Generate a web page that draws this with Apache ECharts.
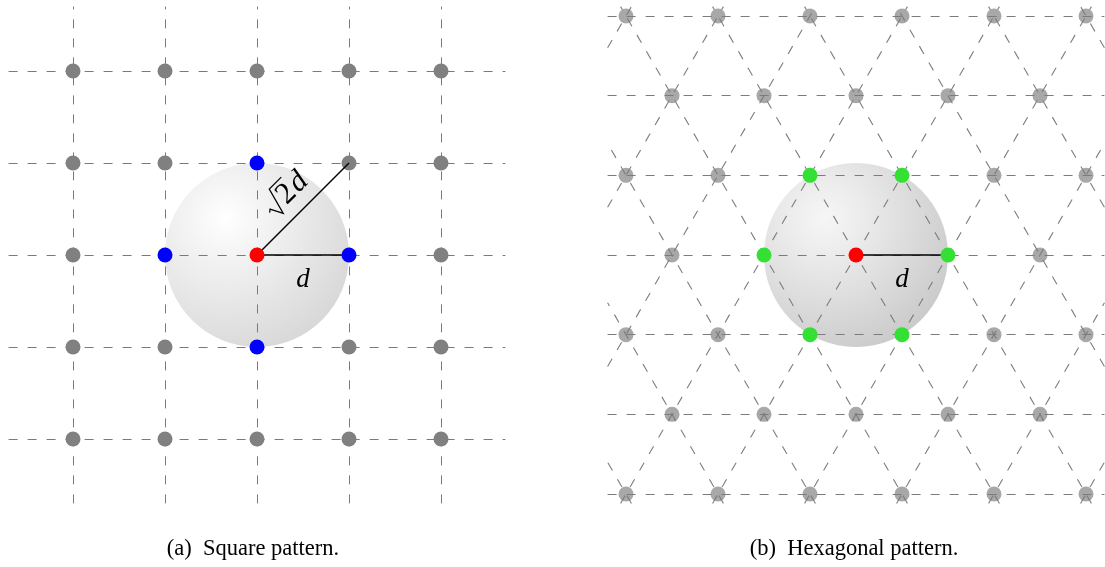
<!DOCTYPE html>
<html>
<head>
<meta charset="utf-8">
<script src="https://cdn.jsdelivr.net/npm/echarts@6/dist/echarts.min.js"></script>
<style>
  html, body { margin: 0; padding: 0; background: #fff; }
  #chart { width: 1105px; height: 567px; }
</style>
</head>
<body>
<div id="chart"></div>
<script>
// Lattice layout, in units of the nearest-neighbour distance d
const squareCols = [-2, -1, 0, 1, 2];
const squareRows = [-2, -1, 0, 1, 2];
const squareCentre = [[0, 0]];
const squareNearest = [[1, 0], [0, 1], [-1, 0], [0, -1]];
const squareSegments = [[[0, 0], [1, 0]], [[0, 0], [1, 1]]];

const hexRows = [-3, -2, -1, 0, 1, 2, 3];
const hexColsEven = [-2, -1, 0, 1, 2];
const hexColsOdd = [-2.5, -1.5, -0.5, 0.5, 1.5, 2.5];
const hexCentre = [[0, 0]];
const hexNearest = [[1, 0], [-1, 0], [0.5, 1], [-0.5, 1], [0.5, -1], [-0.5, -1]]; // [column, row]
const hexSegments = [[[0, 0], [1, 0]]];
const hexDiagonalOffsets = [-6, -5, -4, -3, -2, -1, 0, 1, 2, 3, 4, 5, 6];

const sphereRadius = 1;
const captions = ['(a)  Square pattern.', '(b)  Hexagonal pattern.'];

const H = Math.sqrt(3) / 2;      // row height of the triangular lattice
const EXT = 2.7;                 // half-extent of each panel's axes

// clip an infinite line (point + direction) to the panel box
function clipLine(px, py, dx, dy) {
  let t0 = -Infinity, t1 = Infinity;
  [[px, dx], [py, dy]].forEach(([p, d]) => {
    if (Math.abs(d) < 1e-12) { if (p < -EXT || p > EXT) { t0 = 1; t1 = 0; } return; }
    const a = (-EXT - p) / d, b = (EXT - p) / d;
    t0 = Math.max(t0, Math.min(a, b));
    t1 = Math.min(t1, Math.max(a, b));
  });
  if (t0 >= t1) return null;
  return { coords: [[px + dx * t0, py + dy * t0], [px + dx * t1, py + dy * t1]] };
}

const isSame = (a, b) => Math.abs(a[0] - b[0]) < 1e-9 && Math.abs(a[1] - b[1]) < 1e-9;

// square lattice
const squareAll = squareRows.flatMap(r => squareCols.map(c => [c, r]));
const squareGrey = squareAll.filter(p => !squareCentre.concat(squareNearest).some(q => isSame(p, q)));
const squareLines = []
  .concat(squareRows.map(r => clipLine(0, r, 1, 0)))
  .concat(squareCols.map(c => clipLine(c, 0, 0, 1)))
  .filter(Boolean);

// triangular (hexagonal) lattice
const hexAll = hexRows.flatMap(r => (r % 2 ? hexColsOdd : hexColsEven).map(c => [c, r * H]));
const hexNearestXY = hexNearest.map(([c, r]) => [c, r * H]);
const hexGrey = hexAll.filter(p => !hexCentre.concat(hexNearestXY).some(q => isSame(p, q)));
const hexLines = []
  .concat(hexRows.map(r => clipLine(0, r * H, 1, 0)))
  .concat(hexDiagonalOffsets.map(c => clipLine(c, 0, 0.5, H)))
  .concat(hexDiagonalOffsets.map(c => clipLine(c, 0, -0.5, H)))
  .filter(Boolean);

const dashed = (color, w) => ({ color: color, width: w, type: [9, 10], opacity: 1 });

function sphereSeries(idx, inner, outer) {
  return {
    type: 'custom', xAxisIndex: idx, yAxisIndex: idx, z: 1, silent: true,
    data: [[0, 0, sphereRadius]],
    renderItem: (params, api) => {
      const c = api.coord([api.value(0), api.value(1)]);
      const r = api.size([api.value(2), 0])[0];
      return {
        type: 'circle',
        shape: { cx: c[0], cy: c[1], r: r },
        style: {
          fill: {
            type: 'radial', x: 0.33, y: 0.3, r: 0.8,
            colorStops: [
              { offset: 0, color: inner[0] },
              { offset: 0.25, color: inner[1] },
              { offset: 1, color: outer }
            ]
          }
        }
      };
    }
  };
}

function dots(idx, data, color, size, z) {
  return {
    type: 'scatter', xAxisIndex: idx, yAxisIndex: idx, z: z, silent: true,
    symbol: 'circle', symbolSize: size, data: data,
    itemStyle: { color: color, opacity: 1 }
  };
}

function textMark(idx, x, y, build) {
  return {
    type: 'custom', xAxisIndex: idx, yAxisIndex: idx, z: 10, silent: true,
    data: [[x, y]],
    renderItem: (params, api) => {
      const p = api.coord([api.value(0), api.value(1)]);
      return build(p);
    }
  };
}

const italicD = (p) => ({
  type: 'text', x: p[0], y: p[1],
  style: {
    text: 'd', fill: '#000', align: 'center', verticalAlign: 'middle',
    font: 'italic 27px "Liberation Serif", "DejaVu Serif", serif'
  }
});

// radical sign with its bar over the 2, followed by italic d, laid along the diagonal
const rootLabel = (p) => ({
  type: 'group', x: p[0], y: p[1], rotation: Math.PI / 4, scaleX: 1.13, scaleY: 1.13,
  children: [
    {
      type: 'polyline',
      shape: { points: [[-22, 1], [-19.5, -1], [-14, 10], [-7.5, -14], [7.5, -14]] },
      style: { stroke: '#000', lineWidth: 1.1, fill: null }
    },
    {
      type: 'text', x: 0, y: 0,
      style: { text: '2', fill: '#000', align: 'center', verticalAlign: 'middle', font: '27px "Liberation Serif", serif' }
    },
    {
      type: 'text', x: 15, y: 0,
      style: { text: 'd', fill: '#000', align: 'center', verticalAlign: 'middle', font: 'italic 27px "Liberation Serif", serif' }
    }
  ]
});

const gridBox = (left) => ({ left: left, top: 6.6, width: 496.8, height: 496.8 });
const axis = (idx) => ({ gridIndex: idx, type: 'value', min: -EXT, max: EXT, show: false });

const captionStyle = (text) => ({ text: text, align: 'center', verticalAlign: 'middle', fill: '#000', font: '22.5px "Liberation Serif", serif' });

const option = {
  animation: false,
  backgroundColor: '#fff',
  grid: [gridBox(8.6), gridBox(607.6)],
  xAxis: [axis(0), axis(1)],
  yAxis: [axis(0), axis(1)],
  graphic: [
    { type: 'text', x: 253, y: 549, style: captionStyle(captions[0]), z: 20 },
    { type: 'text', x: 854, y: 549, style: captionStyle(captions[1]), z: 20 }
  ],
  series: [
    // (a) square pattern
    sphereSeries(0, ['#ffffff', '#f4f4f4'], '#d6d6d6'),
    { type: 'lines', coordinateSystem: 'cartesian2d', xAxisIndex: 0, yAxisIndex: 0, z: 2, silent: true,
      data: squareLines, lineStyle: dashed('#7a7a7a', 1) },
    dots(0, squareGrey, '#808080', 15, 3),
    { type: 'lines', coordinateSystem: 'cartesian2d', xAxisIndex: 0, yAxisIndex: 0, z: 4, silent: true,
      data: squareSegments.map(s => ({ coords: s })), lineStyle: { color: '#000', width: 1.5, type: 'solid', opacity: 1 } },
    dots(0, squareNearest, '#0000ff', 15, 5),
    dots(0, squareCentre, '#ff0000', 15, 5),
    textMark(0, 0.5, -0.27, italicD),
    textMark(0, 0.32, 0.66, rootLabel),

    // (b) hexagonal pattern
    sphereSeries(1, ['#f6f6f6', '#ececec'], '#c8c8c8'),
    dots(1, hexGrey, '#a8a8a8', 15, 2),
    { type: 'lines', coordinateSystem: 'cartesian2d', xAxisIndex: 1, yAxisIndex: 1, z: 3, silent: true,
      data: hexLines, lineStyle: dashed('#7c7c7c', 1.1) },
    { type: 'lines', coordinateSystem: 'cartesian2d', xAxisIndex: 1, yAxisIndex: 1, z: 4, silent: true,
      data: hexSegments.map(s => ({ coords: s })), lineStyle: { color: '#000', width: 1.5, type: 'solid', opacity: 1 } },
    dots(1, hexNearestXY, '#33e033', 15, 5),
    dots(1, hexCentre, '#ff0000', 15, 5),
    textMark(1, 0.5, -0.27, italicD)
  ]
};

const chart = echarts.init(document.getElementById('chart'), null, { renderer: 'canvas' });
chart.setOption(option);
</script>
</body>
</html>
